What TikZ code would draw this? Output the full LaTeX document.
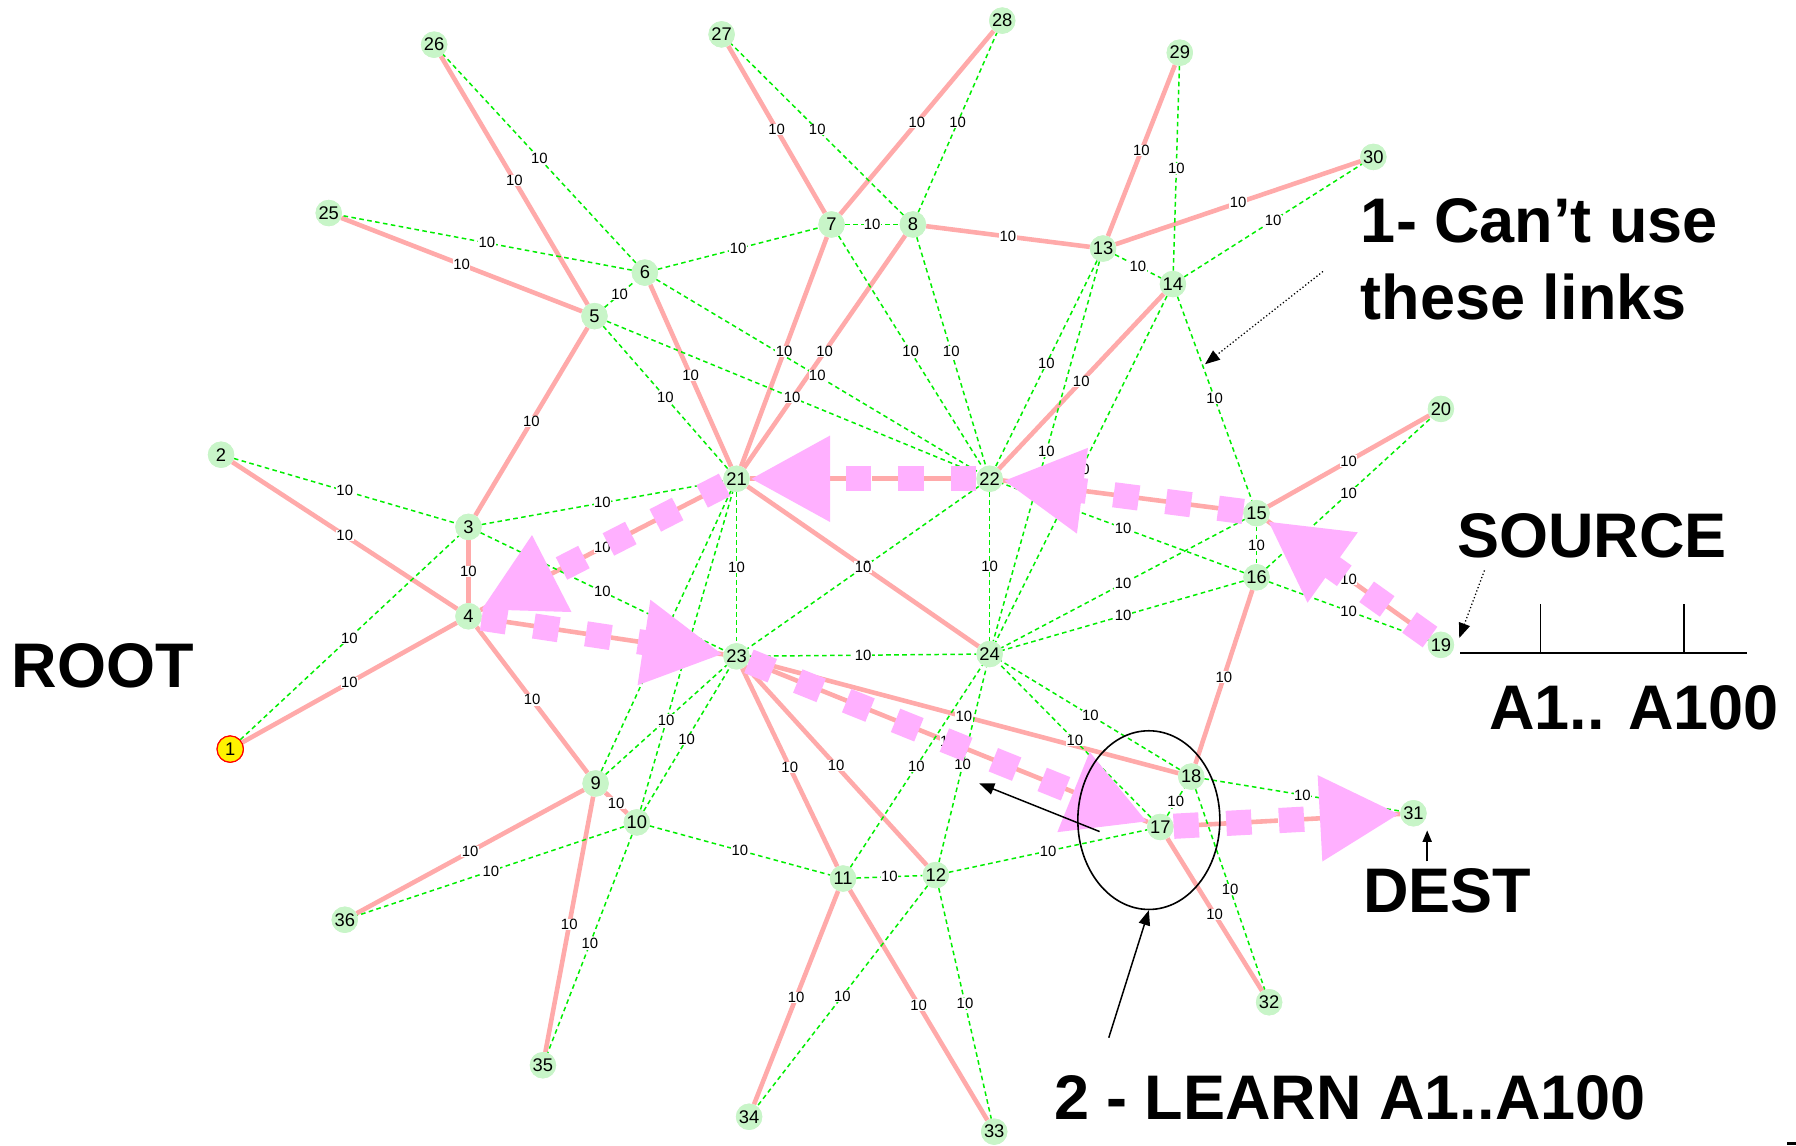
\documentclass[tikz,border=0pt]{standalone}
\usepackage{fontspec}
\setmainfont{Liberation Sans}
\usetikzlibrary{arrows.meta,shapes.geometric}
\definecolor{treepink}{HTML}{FFAAAA}
\definecolor{meshgreen}{HTML}{00EE00}
\definecolor{nodegreen}{HTML}{C8F5C8}
\definecolor{flowpink}{HTML}{FFB0FF}
\begin{document}
\begin{tikzpicture}[x=1pt,y=-1pt,
  nd/.style={circle, fill=nodegreen, minimum size=23pt, inner sep=0pt, font=\fontsize{16}{16}\selectfont},
  rootnd/.style={circle, fill=yellow, draw=red, line width=1pt, minimum size=23pt, inner sep=0pt, font=\fontsize{16}{16}\selectfont},
  tree/.style={draw=treepink, line width=4pt},
  mesh/.style={draw=meshgreen, line width=1.3pt, dash pattern=on 4pt off 3pt},
  lab/.style={font=\fontsize{13}{13}\selectfont, fill=white, inner sep=0.4pt},
  flow/.style={draw=flowpink, line width=22pt, dash pattern=on 22pt off 24pt, -{Triangle[length=70pt,width=70pt]}},
  big/.style={font=\fontsize{55}{60}\selectfont\bfseries, inner sep=0pt, anchor=base west},
  note/.style={draw=black, line width=1.3pt, -{Triangle[length=13pt,width=10pt]}},
  dnote/.style={draw=black, line width=1.1pt, dotted, -{Triangle[length=13pt,width=10pt]}}
]
\useasboundingbox (0,0) rectangle (1568,1000);
\fill[white] (0,0) rectangle (1568,1000);

% nodes
\foreach \i/\x/\y in {
 2/193/397, 3/409/460, 4/409/538, 5/519/276, 6/563/238, 7/726/196, 8/797/196,
 9/520/684, 10/556/718, 11/736/767, 12/817/764, 13/963/217, 14/1024/248,
 15/1097/448, 16/1097/504, 17/1013/722, 18/1040/678, 19/1258/563, 20/1258/357,
 21/643/418, 22/864/418, 23/643/573, 24/864/571, 25/287/186, 26/379/39,
 27/630/30, 28/875/18, 29/1030/46, 30/1199/137, 31/1234/710, 32/1108/875,
 33/868/988, 34/654/975, 35/474/930, 36/301/803}
 \node[nd] (n\i) at (\x,\y) {\i};
\node[rootnd] (n1) at (201,654) {1};

% tree (pink) links
\foreach \a/\b in {1/4, 2/4, 3/4, 3/5, 5/25, 5/26, 4/9, 4/21, 4/23, 6/21, 7/21, 8/21,
  7/27, 7/28, 8/13, 13/29, 13/30, 14/22, 21/22, 21/24, 15/22, 15/20, 15/19, 16/18,
  9/10, 9/35, 9/36, 11/23, 12/23, 17/23, 18/23, 11/33, 11/34, 17/31, 17/32}
  \draw[tree] (n\a) -- (n\b);

% mesh (green dashed) links
\foreach \a/\b in {1/3, 2/3, 3/21, 3/23, 5/6, 6/25, 6/26, 5/21, 5/22, 6/22, 6/7, 7/8,
  8/27, 8/28, 7/22, 8/22, 13/14, 14/29, 14/30, 13/22, 13/24, 14/24, 14/15, 15/16,
  15/24, 16/20, 16/19, 16/22, 16/24, 21/23, 22/23, 22/24, 23/24, 9/21, 9/23, 10/21,
  10/23, 10/35, 10/36, 10/11, 11/12, 11/24, 12/24, 12/33, 12/34, 12/17, 17/18,
  17/24, 18/24, 18/31, 18/32}
  \draw[mesh] (n\a) -- (n\b);

% link weights
\foreach \a/\b in {1/4, 2/4, 3/4, 3/5, 5/25, 5/26, 4/9, 4/21, 4/23, 6/21, 7/21, 8/21,
  7/27, 7/28, 8/13, 13/29, 13/30, 14/22, 21/22, 21/24, 15/22, 15/20, 15/19, 16/18,
  9/10, 9/35, 9/36, 11/23, 12/23, 17/23, 18/23, 11/33, 11/34, 17/31, 17/32,
  1/3, 2/3, 3/21, 3/23, 5/6, 6/25, 6/26, 5/21, 5/22, 6/22, 6/7, 7/8,
  8/27, 8/28, 7/22, 8/22, 13/14, 14/29, 14/30, 13/22, 13/24, 14/24, 14/15, 15/16,
  15/24, 16/20, 16/19, 16/22, 16/24, 21/23, 22/23, 22/24, 23/24, 9/21, 9/23, 10/21,
  10/23, 10/35, 10/36, 10/11, 11/12, 11/24, 12/24, 12/33, 12/34, 12/17, 17/18,
  17/24, 18/24, 18/31, 18/32}
  \path (n\a.center) -- node[lab] {10} (n\b.center);

% redraw nodes on top of lines
\foreach \i/\x/\y in {
 2/193/397, 3/409/460, 4/409/538, 5/519/276, 6/563/238, 7/726/196, 8/797/196,
 9/520/684, 10/556/718, 11/736/767, 12/817/764, 13/963/217, 14/1024/248,
 15/1097/448, 16/1097/504, 17/1013/722, 18/1040/678, 19/1258/563, 20/1258/357,
 21/643/418, 22/864/418, 23/643/573, 24/864/571, 25/287/186, 26/379/39,
 27/630/30, 28/875/18, 29/1030/46, 30/1199/137, 31/1234/710, 32/1108/875,
 33/868/988, 34/654/975, 35/474/930, 36/301/803}
 \node[nd] at (\x,\y) {\i};
\node[rootnd] at (201,654) {1};

% flow overlay
\draw[flow] (n19) -- (n15);
\draw[flow] (n15) -- (n22);
\draw[flow] (n22) -- (n21);
\draw[flow] (n21) -- (n4);
\draw[flow] (n4) -- (n23);
\draw[flow] (n23) -- (n17);
\draw[flow] (n17) -- (n31);

% annotations
\node[big] (t1) at (1188,212) {1- Can’t use};
\node[big] (t2) at (1188,279) {these links};
\node[big] (tsrc) at (1272,487) {SOURCE};
\node[big] (troot) at (10,600) {ROOT};
\node[big] (ta) at (1300,637) {A1.. A100};
\node[big] (tdest) at (1190,797) {DEST};
\node[big] (tlearn) at (920,977) {2 - LEARN A1..A100};

\coordinate (c1s) at (1155,237);
\coordinate (c1e) at (1052,318);
\draw[dnote] (c1s) -- (c1e);
\coordinate (srcs) at (1296,498);
\coordinate (srce) at (1274,557);
\draw[dnote] (srcs) -- (srce);

\coordinate (bl) at (1275,570);
\coordinate (br) at (1525,570);
\draw[line width=1.4pt] (bl) -- (br);
\draw[line width=1.4pt] (1345,570) -- (1345,527);
\draw[line width=1.4pt] (1470,570) -- (1470,527);

\coordinate (ds) at (1246,752);
\coordinate (de) at (1246,725);
\draw[note, -{Triangle[length=10pt,width=8pt]}] (ds) -- (de);

\node[draw=black, line width=1.4pt, ellipse, minimum width=124pt, minimum height=156pt, inner sep=0pt] (ell) at (1003,716) {};
\coordinate (ls) at (968,906);
\draw[note] (ls) -- (ell.south);
\coordinate (ms) at (960,726);
\coordinate (me) at (855,684);
\draw[note] (ms) -- (me);

\fill[black] (1560,997) rectangle (1568,1000);
\end{tikzpicture}
\end{document}
